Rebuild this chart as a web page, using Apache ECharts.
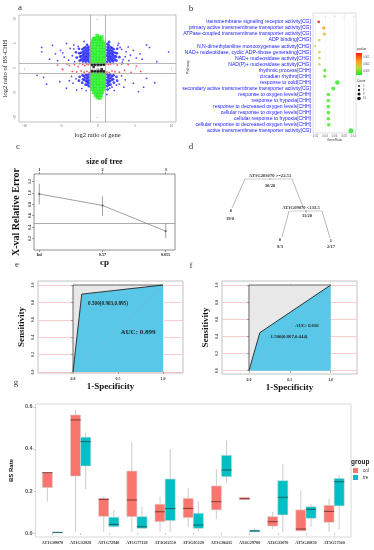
<!DOCTYPE html>
<html><head><meta charset="utf-8">
<script src="https://cdn.jsdelivr.net/npm/echarts@6/dist/echarts.min.js"></script>
<style>html,body{margin:0;padding:0;background:#fff}#c{width:374px;height:550px}</style>
</head><body><div id="c"></div><script>
// ---------- panel a : scatter ----------
const aTicks = [-10, -5, 0, 5, 10];
const aGreen = [
 [-0.92,1.3],[-0.5,1.25],[-0.08,1.35],[0.33,1.28],[0.78,1.32],
 [-0.88,1.95],[-0.46,1.88],[-0.04,1.92],[0.38,1.9],[0.8,1.97],
 [-0.9,2.5],[-0.47,2.55],[-0.06,2.48],[0.36,2.52],[0.82,2.46],
 [-0.86,3.1],[-0.44,3.05],[-0.02,3.12],[0.4,3.08],[0.79,3.14],
 [-0.9,3.7],[-0.48,3.72],[-0.05,3.66],[0.37,3.7],[0.8,3.68],
 [-0.87,4.3],[-0.45,4.28],[-0.03,4.34],[0.39,4.3],[0.81,4.26],
 [-0.85,4.9],[-0.43,4.95],[0.0,4.88],[0.41,4.92],[0.78,4.9],
 [-0.7,5.45],[-0.25,5.55],[0.15,5.5],[0.6,5.48],
 [-0.4,6.0],[0.1,6.2],[0.3,5.9],[-0.1,6.6],[0.5,6.3],[-0.6,5.95],
 [-0.92,-1.3],[-0.5,-1.25],[-0.08,-1.35],[0.33,-1.28],[0.78,-1.32],
 [-0.88,-1.95],[-0.46,-1.88],[-0.04,-1.92],[0.38,-1.9],[0.8,-1.97],
 [-0.9,-2.5],[-0.47,-2.55],[-0.06,-2.48],[0.36,-2.52],[0.82,-2.46],
 [-0.86,-3.1],[-0.44,-3.05],[-0.02,-3.12],[0.4,-3.08],[0.79,-3.14],
 [-0.9,-3.7],[-0.48,-3.72],[-0.05,-3.66],[0.37,-3.7],[0.8,-3.68],
 [-0.8,-4.3],[-0.45,-4.28],[-0.03,-4.34],[0.39,-4.3],[0.75,-4.26],
 [-0.6,-4.9],[-0.2,-4.95],[0.2,-4.88],[0.55,-4.92],
 [-0.35,-5.5],[0.05,-5.45],[0.4,-5.55],[-0.1,-6.0],[0.25,-6.1]
];
// dense blue flanks next to the green band
const aBlueDense = [
 [-1.25,1.3],[-1.3,1.9],[-1.22,2.5],[-1.28,3.1],[-1.24,3.7],[-1.3,4.3],
 [-1.45,1.6],[-1.48,2.2],[-1.44,2.8],[-1.46,3.4],[-1.42,4.0],
 [-1.65,1.25],[-1.7,1.85],[-1.62,2.45],[-1.68,3.05],[-1.66,3.65],[-1.72,4.2],
 [-1.88,1.6],[-1.85,2.2],[-1.9,2.85],[-1.86,3.45],[-1.92,4.05],
 [-2.05,1.35],[-2.1,1.95],[-2.02,2.6],[-2.08,3.2],[-2.12,3.8],
 [-2.3,1.7],[-2.28,2.4],[-2.35,3.1],
 [-2.5,1.5],[-2.45,2.3],[-2.55,3.0],[-2.6,3.9],[-2.9,2.1],[-3.0,3.2],[-1.5,4.7],
 [1.25,1.3],[1.3,1.9],[1.22,2.5],[1.28,3.1],[1.24,3.7],[1.3,4.3],[1.27,4.9],
 [1.45,1.6],[1.48,2.2],[1.44,2.8],[1.46,3.4],[1.42,4.0],[1.47,4.6],
 [1.65,1.25],[1.7,1.85],[1.62,2.45],[1.68,3.05],[1.66,3.65],[1.72,4.2],
 [1.88,1.6],[1.85,2.2],[1.9,2.85],[1.86,3.45],[1.92,4.05],
 [2.05,1.35],[2.1,1.95],[2.02,2.6],[2.08,3.2],[2.12,3.8],
 [2.3,1.7],[2.28,2.4],[2.35,3.1],
 [2.5,1.5],[2.45,2.3],[2.55,3.0],[2.6,3.9],[2.9,2.2],[1.5,5.3],
 [-1.25,-1.3],[-1.3,-1.9],[-1.22,-2.5],[-1.28,-3.1],[-1.24,-3.7],
 [-1.45,-1.6],[-1.48,-2.2],[-1.44,-2.8],[-1.46,-3.4],
 [-1.65,-1.35],[-1.7,-2.0],[-1.62,-2.7],[-1.7,-3.4],
 [-1.9,-1.7],[-1.88,-2.4],
 [-2.1,-1.5],[-2.05,-2.3],[-2.15,-3.0],[-2.5,-1.8],[-2.6,-2.6],
 [1.25,-1.3],[1.3,-1.9],[1.22,-2.5],[1.28,-3.1],[1.24,-3.7],[1.3,-4.4],
 [1.45,-1.6],[1.48,-2.2],[1.44,-2.8],[1.46,-3.4],
 [1.65,-1.35],[1.7,-2.0],[1.62,-2.7],[1.7,-3.4],
 [1.9,-1.7],[1.88,-2.4],
 [2.1,-1.5],[2.05,-2.3],[2.15,-3.0],[2.5,-1.8],[2.6,-2.6]
];
// scattered blue points further out
const aBlueSparse = [
 [-7.66,4.2],[-7.66,3.3],[-6.6,1.8],[-5.8,2.9],[-5.1,3.6],[-3.8,4.0],[-4.3,5.0],[-3.3,4.7],
 [6.6,4.7],[7.0,4.2],[9.6,3.3],[8.0,1.3],[5.7,2.9],[4.8,3.6],[4.1,4.3],[3.7,2.3],[5.2,2.0],
 [2.8,5.0],[3.2,3.8],[-7.4,-1.9],[-7.0,-3.3],[-5.2,-2.8],[-4.3,-4.1],[-3.4,-3.1],[-2.9,-4.5],
 [1.6,-4.1],[2.5,-3.5],[3.7,-2.4],[4.8,-3.1],[6.2,-3.9],[6.6,-2.1],[5.5,-4.8],[1.2,-5.4],
 [-3.5,2.5],[-4.0,1.6],[-3.3,3.9],[-4.6,2.2],[3.4,1.7],[3.0,4.2],[4.4,2.6],[3.8,3.3],
 [-3.6,-1.7],[-3.0,-2.2],[3.2,-1.6],[2.9,-3.3],[-2.2,-4.2],[2.2,-4.6],[-6.2,4.6],[-5.5,1.5],
 [6.0,1.8],[-1.9,5.4],[-8.3,-1.5],[7.7,-3.0],[-3.2,1.3],[3.3,1.2],[-4.8,3.1],[4.2,1.5],
 [-2.7,4.4],[2.7,4.6],[-3.9,-2.6],[3.5,-3.9],[-1.6,-4.6],[1.9,-3.9]
];
const aRed = [
 [-5.5,0.6],[-4.8,-0.3],[-4.2,0.8],[-3.9,0.5],[-3.5,-0.7],[-3.2,0.7],[-2.9,-0.8],[-2.7,0.3],
 [-2.5,0.9],[-2.3,-0.6],[-2.1,0.75],[-1.9,-0.85],[-1.8,0.5],[-1.6,0.85],[-1.5,-0.7],[-1.35,0.7],
 [-1.2,-0.9],[-1.1,0.9],[1.1,0.85],[1.2,-0.8],[1.4,0.7],[1.5,-0.9],[1.7,0.8],[1.9,-0.6],
 [2.1,0.9],[2.3,-0.75],[2.6,0.6],[2.9,-0.85],[3.2,0.8],[3.6,-0.5],[4.1,0.7],[4.5,-0.9],[5.2,0.4],[5.8,-0.7]
];
const aBlack = [
 [-0.85,0.85],[-0.45,0.8],[-0.05,0.88],[0.35,0.82],[0.75,0.86],
 [-0.82,0.62],[-0.42,0.66],[-0.02,0.6],[0.38,0.64],[0.78,0.66],
 [-0.85,-0.6],[-0.45,-0.64],[-0.05,-0.58],[0.35,-0.62],[0.75,-0.64],
 [-0.82,-0.85],[-0.42,-0.82],[-0.02,-0.88],[0.38,-0.84],[0.78,-0.86],
 [-0.6,0.2],[0.5,-0.25]
];
// ---------- panel b : enrichment dot plot ----------
const bTerms = [
 'transmembrane signaling receptor activity[CG]',
 'primary active transmembrane transporter activity[CG]',
 'ATPase-coupled transmembrane transporter activity[CG]',
 'ADP binding[CHG]',
 'N,N-dimethylaniline monooxygenase activity[CHG]',
 'NAD+ nucleotidase, cyclic ADP-ribose generating[CHG]',
 'NAD+ nucleosidase activity[CHG]',
 'NAD(P)+ nucleosidase activity[CHG]',
 'rhythmic process[CHH]',
 'circadian rhythm[CHH]',
 'response to cold[CHH]',
 'secondary active transmembrane transporter activity[CG]',
 'response to oxygen levels[CHH]',
 'response to hypoxia[CHH]',
 'response to decreased oxygen levels[CHH]',
 'cellular response to oxygen levels[CHH]',
 'cellular response to hypoxia[CHH]',
 'cellular response to decreased oxygen levels[CHH]',
 'active transmembrane transporter activity[CG]'
];
const bGeneRatio = [0.0267,0.0373,0.0385,0.028,0.019,0.028,0.028,0.028,0.0394,0.0394,0.066,0.0575,0.047,0.047,0.047,0.047,0.047,0.048,0.0947];
const bPvalue = [0.0004,0.0016,0.0022,0.0029,0.0031,0.0029,0.0029,0.0029,0.0039,0.0039,0.0042,0.0041,0.004,0.004,0.004,0.004,0.004,0.004,0.0043];
const bCount = [3,4,4,3,2,3,3,3,4,4,7,6,5,5,5,5,5,5,8];
const bTicks = [0.02,0.04,0.06,0.08,0.10];
// ---------- panel c : cp plot ----------
const cSize = ['1','2','3'];
const cCp = ['Inf','0.57','0.055'];
const cErr = [0.98,0.78,0.33];
const cLo = [0.80,0.60,0.21];
const cHi = [1.16,0.94,0.47];
const cThreshold = 0.455;
const cTicks = [0.2,0.4,0.6,0.8,1.0,1.2];
// ---------- panel d : tree ----------
const dSplits = ['AT3G203070 >=22.55','AT1G09070 <133.5'];
const dSplitCounts = ['30/20','11/20'];
const dLeafClass = ['0','0','1'];
const dLeafCounts = ['19/0','9/3','2/17'];
// ---------- panels e, f : ROC ----------
const eRoc = [[0,0],[0.097,0.895],[1,1]];
const fRoc = [[0,0],[0.133,0.444],[1,1]];
const eAuc = 'AUC: 0.899', eThr = '0.500(0.903,0.895)';
const fAuc = 'AUC: 0.656', fThr = '1.500(0.867,0.444)';
const rocXTicks = [0,0.5,1];
const rocYTicks = [0,0.2,0.4,0.6,0.8,1.0];
// ---------- panel g : boxplots ----------
const gGenes = ['AT1G09070','AT1G32928','AT1G72940','AT1G77120','AT3G02550','AT3G05120','AT3G06435','AT4G29780','AT4G33070','AT5G20850','AT5G57560'];
// [low, q1, median, q3, high]
const gCol = [
 [0.149,0.216,0.287,0.287,0.287],[0.006,0.271,0.538,0.562,0.586],[0.006,0.079,0.160,0.165,0.173],
 [0.006,0.078,0.157,0.295,0.433],[0.006,0.054,0.101,0.137,0.173],[0.030,0.073,0.117,0.165,0.213],
 [0.065,0.110,0.149,0.224,0.303],[0.158,0.159,0.163,0.170,0.172],[0.018,0.033,0.054,0.078,0.101],
 [0.010,0.010,0.019,0.110,0.202],[0.006,0.051,0.103,0.132,0.163]
];
const gTre = [
 [0.003,0.003,0.003,0.003,0.003],[0.208,0.319,0.435,0.456,0.478],[0.025,0.030,0.041,0.075,0.110],
 [0.022,0.022,0.030,0.078,0.125],[0.006,0.059,0.116,0.257,0.399],[0.010,0.022,0.038,0.094,0.152],
 [0.240,0.268,0.300,0.370,0.440],[0.003,0.005,0.010,0.014,0.022],[0.006,0.086,0.170,0.249,0.329],
 [0.030,0.070,0.113,0.125,0.138],[0.018,0.129,0.244,0.260,0.276]
];
const gTicks = [0,0.2,0.4,0.6];
const gGroups = ['col','tre'];
const gColors = ['#F8766D','#00BFC4'];

// ================= build =================
const SERIF = '"Liberation Serif", "DejaVu Serif", serif';
const SANS = '"Liberation Sans", Arial, sans-serif';
const chart = echarts.init(document.getElementById('c'), null, {renderer:'canvas'});

function boxRender(offset, fill, med){
  return function(params, api){
    const x = api.value(0) + offset;
    const lo = api.coord([x, api.value(1)]), q1 = api.coord([x, api.value(2)]),
          md = api.coord([x, api.value(3)]), q3 = api.coord([x, api.value(4)]),
          hi = api.coord([x, api.value(5)]);
    const w = api.size([0.36, 0])[0];
    return {type:'group', children:[
      {type:'line', shape:{x1:lo[0],y1:lo[1],x2:hi[0],y2:hi[1]}, style:{stroke:'#cccccc', lineWidth:1}},
      {type:'rect', shape:{x:q3[0]-w/2, y:q3[1], width:w, height:Math.max(q1[1]-q3[1],0.5)}, style:{fill:fill, stroke:'#d9d9d9', lineWidth:0.6}},
      {type:'line', shape:{x1:md[0]-w/2,y1:md[1],x2:md[0]+w/2,y2:md[1]}, style:{stroke:med, lineWidth:1}}
    ]};
  };
}
function txt(x, y, text, font, fill, align, rot){
  return {type:'text', x:x, y:y, z:100, rotation: rot||0, silent:true,
    style:{text:text, font:font, fill:fill||'#222', align:align||'center', verticalAlign:'middle'}};
}
function ln(x1,y1,x2,y2,c,w){
  return {type:'line', z:100, silent:true, shape:{x1,y1,x2,y2}, style:{stroke:c||'#888', lineWidth:w||0.6}};
}

const rocAxisX = (idx, min, max) => ({gridIndex: idx, type:'value', min, max,
  name:'1-Specificity', nameLocation:'middle', nameGap:9,
  nameTextStyle:{fontFamily:SERIF, fontWeight:'bold', fontSize:9, color:'#111'},
  axisLine:{show:false}, axisTick:{customValues:rocXTicks, length:2, lineStyle:{color:'#666', width:0.5}},
  axisLabel:{customValues:rocXTicks, fontSize:4, fontWeight:'bold', fontFamily:SERIF, color:'#333', margin:4, formatter:v=>v.toFixed(1)},
  splitLine:{show:true, lineStyle:{color:'#d6ecd6', width:0.6}}});
const rocAxisY = (idx, min, max, gap) => ({gridIndex: idx, type:'value', min, max,
  name:'Sensitivity', nameLocation:'middle', nameGap:gap,
  nameTextStyle:{fontFamily:SERIF, fontWeight:'bold', fontSize:9, color:'#111'},
  axisLine:{show:false}, axisTick:{customValues:rocYTicks, length:2, lineStyle:{color:'#666', width:0.5}},
  axisLabel:{customValues:rocYTicks, rotate:90, fontSize:4, fontWeight:'bold', fontFamily:SERIF, color:'#333', margin:3, formatter:v=>v.toFixed(1)},
  splitLine:{show:true, lineStyle:{color:'#f5c2c2', width:0.8}}});

const series = [];
// a
series.push({type:'scatter', xAxisIndex:0, yAxisIndex:0, data:aBlueSparse, symbolSize:1.8, itemStyle:{color:'#2020ff'}, silent:true});
series.push({type:'scatter', xAxisIndex:0, yAxisIndex:0, data:aBlueDense, symbolSize:2.8, itemStyle:{color:'#1f1fff'}, silent:true});
series.push({type:'scatter', xAxisIndex:0, yAxisIndex:0, data:aRed, symbolSize:1.8, itemStyle:{color:'#ff2020'}, silent:true});
series.push({type:'scatter', xAxisIndex:0, yAxisIndex:0, data:aBlack, symbol:'rect', symbolSize:2.6, itemStyle:{color:'#111'}, silent:true});
series.push({type:'scatter', xAxisIndex:0, yAxisIndex:0, data:aGreen, symbol:'rect', symbolSize:3.8, itemStyle:{color:'#22ee22'}, silent:true,
  markLine:{silent:true, symbol:'none', label:{show:false}, lineStyle:{color:'#999', width:0.7, type:'solid'},
    data:[{xAxis:-1},{xAxis:1},{yAxis:-1},{yAxis:1}]}});
// b
const bIdx = series.length;
series.push({type:'scatter', xAxisIndex:1, yAxisIndex:1, silent:true,
  data: bTerms.map((t,i)=>[bGeneRatio[i], i+1, bPvalue[i], bCount[i]]),
  symbolSize: v => 1.4 + v[3]*0.45});
// c
series.push({type:'line', xAxisIndex:2, yAxisIndex:2, silent:true, data: cErr.map((v,i)=>[i+1,v]),
  lineStyle:{color:'#888', width:0.8}, symbol:'circle', symbolSize:2, itemStyle:{color:'#555'},
  markLine:{silent:true, symbol:'none', label:{show:false}, lineStyle:{color:'#888', width:0.7, type:'solid'}, data:[{yAxis:cThreshold}]}});
series.push({type:'custom', xAxisIndex:2, yAxisIndex:2, silent:true, data: cErr.map((v,i)=>[i+1,cLo[i],cHi[i]]),
  renderItem:(p,api)=>{const a=api.coord([api.value(0),api.value(1)]), b=api.coord([api.value(0),api.value(2)]);
    return {type:'line', shape:{x1:a[0],y1:a[1],x2:b[0],y2:b[1]}, style:{stroke:'#777', lineWidth:0.7}};}});
// e, f ROC
function rocSeries(xi, yi, roc){
  return [
    {type:'line', xAxisIndex:xi, yAxisIndex:yi, silent:true, symbol:'none', data:[[0,0],[0,1],[1,1]],
      lineStyle:{color:'#444', width:0.8}, areaStyle:{color:'#e8e8e8', opacity:1, origin:0}},
    {type:'line', xAxisIndex:xi, yAxisIndex:yi, silent:true, symbol:'none', data:roc,
      lineStyle:{color:'#222', width:0.9}, areaStyle:{color:'#58c7e8', opacity:1, origin:0}},
    {type:'line', xAxisIndex:xi, yAxisIndex:yi, silent:true, symbol:'none', data:[[0,0],[1,1]],
      lineStyle:{color:'rgba(160,160,160,0.55)', width:0.5}}
  ];
}
series.push(...rocSeries(4,3,eRoc));
series.push(...rocSeries(5,4,fRoc));
// g
series.push({type:'custom', name:gGroups[0], xAxisIndex:6, yAxisIndex:5, silent:true, itemStyle:{color:gColors[0]},
  data: gCol.map((r,i)=>[i+1, ...r]), encode:{x:0, y:[1,2,3,4,5]}, renderItem: boxRender(-0.18, gColors[0], '#7f3b36')});
series.push({type:'custom', name:gGroups[1], xAxisIndex:6, yAxisIndex:5, silent:true, itemStyle:{color:gColors[1]},
  data: gTre.map((r,i)=>[i+1, ...r]), encode:{x:0, y:[1,2,3,4,5]}, renderItem: boxRender(0.18, gColors[1], '#1b5e60')});

const graphic = [
  txt(20,8,'a','9px '+SERIF,'#333'), txt(191,9,'b','9px '+SERIF,'#333'),
  txt(18,147,'c','9px '+SERIF,'#333'), txt(191,147,'d','9px '+SERIF,'#333'),
  txt(17,265,'e','9px '+SERIF,'#333'), txt(191,266,'f','9px '+SERIF,'#333'),
  txt(16,383,'g','9px '+SERIF,'#333'),
  // b axis title + legends
  txt(188,67,'Pathway','3.6px '+SANS,'#333','center',Math.PI/2),
  txt(357,49,'pvalue','3.2px '+SANS,'#333','left'),
  {type:'rect', z:100, silent:true, shape:{x:356,y:53,width:6,height:22}, style:{fill:{type:'linear',x:0,y:0,x2:0,y2:1,colorStops:[{offset:0,color:'#ff1a00'},{offset:0.35,color:'#ff9a1a'},{offset:0.65,color:'#c8d43a'},{offset:1,color:'#22e622'}]}}},
  txt(363,57,'0.001','2.6px '+SANS,'#555','left'), txt(363,64,'0.002','2.6px '+SANS,'#555','left'), txt(363,71,'0.003','2.6px '+SANS,'#555','left'),
  txt(357,81,'Count','3.2px '+SANS,'#333','left'),
  {type:'circle', z:100, silent:true, shape:{cx:359,cy:86,r:0.9}, style:{fill:'#111'}},
  {type:'circle', z:100, silent:true, shape:{cx:359,cy:90,r:1.2}, style:{fill:'#111'}},
  {type:'circle', z:100, silent:true, shape:{cx:359,cy:94,r:1.5}, style:{fill:'#111'}},
  {type:'circle', z:100, silent:true, shape:{cx:359,cy:98.5,r:1.8}, style:{fill:'#111'}},
  txt(363,86,'4','2.6px '+SANS,'#555','left'), txt(363,90,'6','2.6px '+SANS,'#555','left'),
  txt(363,94,'8','2.6px '+SANS,'#555','left'), txt(363,98.5,'10','2.6px '+SANS,'#555','left'),
  // d tree
  txt(270,176,dSplits[0],'bold 4.6px '+SERIF,'#333'), ln(270,178,270,180,'#555',0.5),
  txt(270,186,dSplitCounts[0],'bold 4.6px '+SERIF,'#333'),
  ln(245,179,232,208), ln(292,179,303,207), ln(245,179,292,179,'#999',0.5),
  txt(231,211,dLeafClass[0],'bold 4.6px '+SERIF,'#333'), txt(230,219,dLeafCounts[0],'bold 4.6px '+SERIF,'#333'),
  txt(301,208,dSplits[1],'bold 4.6px '+SERIF,'#333'), ln(289,211,322,211,'#999',0.5), ln(306,210,306,213,'#555',0.5),
  txt(307,216,dSplitCounts[1],'bold 4.6px '+SERIF,'#333'),
  ln(289,211,282,237), ln(322,211,330,238),
  txt(280,240,dLeafClass[1],'bold 4.6px '+SERIF,'#333'), txt(280,247,dLeafCounts[1],'bold 4.6px '+SERIF,'#333'),
  txt(331,241,dLeafClass[2],'bold 4.6px '+SERIF,'#333'), txt(331,247,dLeafCounts[2],'bold 4.6px '+SERIF,'#333'),
  // e, f texts
  txt(108,304,eThr,'bold 5.2px '+SERIF,'#222'), txt(138,332,eAuc,'bold 7px '+SERIF,'#222'),
  txt(307,326,fAuc,'italic bold 4.8px '+SERIF,'#222'), txt(289,337,fThr,'bold 4.8px '+SERIF,'#222'),
  // g legend title
  txt(351,462,'group','bold 6.5px '+SANS,'#222','left')
];

const option = {
  animation:false,
  textStyle:{fontFamily:SERIF},
  grid:[
    {left:19, top:15, width:157, height:107, show:true, borderColor:'#999', borderWidth:0.6},
    {left:313, top:13, width:43, height:120, show:true, borderColor:'#bbb', borderWidth:0.5},
    {left:34, top:174, width:141, height:76, show:true, borderColor:'#444', borderWidth:0.6},
    {left:38, top:281, width:145, height:92, show:true, borderColor:'#999', borderWidth:0.6},
    {left:222, top:281, width:135, height:93, show:true, borderColor:'#999', borderWidth:0.6},
    {left:23, top:404, width:328, height:133, show:true, borderColor:'#cfcfcf', borderWidth:0.8}
  ],
  xAxis:[
    {gridIndex:0, type:'value', min:-10.75, max:10.6, name:'log2 ratio of gene', nameLocation:'middle', nameGap:10,
      nameTextStyle:{fontFamily:SERIF, fontSize:6.5, color:'#222'}, axisLine:{show:false},
      axisTick:{customValues:aTicks, length:1.5, lineStyle:{color:'#888', width:0.5}},
      axisLabel:{customValues:aTicks, fontSize:3.5, color:'#666', margin:2}, splitLine:{show:false}},
    {gridIndex:1, type:'value', min:0.0147, max:0.1053, name:'GeneRatio', nameLocation:'middle', nameGap:6,
      nameTextStyle:{fontFamily:SANS, fontSize:3.2, color:'#444'}, axisLine:{show:false},
      axisTick:{customValues:bTicks, length:1, lineStyle:{color:'#999', width:0.4}},
      axisLabel:{customValues:bTicks, fontSize:2.8, fontFamily:SANS, color:'#666', margin:1.5, formatter:v=>v.toFixed(2)},
      splitLine:{show:true, lineStyle:{color:'#eeeeee', width:0.5}}},
    {gridIndex:2, type:'value', min:0.916, max:3.147, name:'cp', nameLocation:'middle', nameGap:8,
      nameTextStyle:{fontFamily:SERIF, fontSize:9, fontWeight:'bold', color:'#111'}, axisLine:{show:false},
      axisTick:{customValues:[1,2,3], length:2, lineStyle:{color:'#444', width:0.5}},
      axisLabel:{customValues:[1,2,3], fontSize:4.2, fontWeight:'bold', color:'#222', margin:3, formatter:v=>cCp[Math.round(v)-1]},
      splitLine:{show:false}},
    {gridIndex:2, type:'value', position:'top', min:0.916, max:3.147, name:'size of tree', nameLocation:'middle', nameGap:8,
      nameTextStyle:{fontFamily:SERIF, fontSize:8, fontWeight:'bold', color:'#111'}, axisLine:{show:false},
      axisTick:{customValues:[1,2,3], length:2, lineStyle:{color:'#444', width:0.5}},
      axisLabel:{customValues:[1,2,3], fontSize:4.2, fontWeight:'bold', color:'#222', margin:2, formatter:v=>cSize[Math.round(v)-1]},
      splitLine:{show:false}},
    rocAxisX(3, -0.389, 1.222),
    rocAxisX(4, -0.33, 1.322),
    {gridIndex:5, type:'value', min:0.4, max:11.6, axisLine:{show:false},
      axisTick:{customValues:gGenes.map((g,i)=>i+1), length:2, lineStyle:{color:'#999', width:0.5}},
      axisLabel:{customValues:gGenes.map((g,i)=>i+1), fontSize:4.2, fontWeight:'bold', fontFamily:SERIF, color:'#333', margin:4, formatter:v=>gGenes[Math.round(v)-1]},
      splitLine:{show:false}}
  ],
  yAxis:[
    {gridIndex:0, type:'value', min:-11.0, max:10.8, name:'log2 ratio of BS-CHH', nameLocation:'middle', nameGap:10,
      nameTextStyle:{fontFamily:SERIF, fontSize:6.5, color:'#222'}, axisLine:{show:false},
      axisTick:{customValues:aTicks, length:1.5, lineStyle:{color:'#888', width:0.5}},
      axisLabel:{customValues:aTicks, fontSize:3.5, color:'#666', margin:2, rotate:90}, splitLine:{show:false}},
    {gridIndex:1, type:'value', inverse:true, min:-0.47, max:19.36, axisLine:{show:false}, axisTick:{show:false},
      axisLabel:{customValues:bTerms.map((t,i)=>i+1), fontSize:5.1, fontFamily:SANS, color:'#1a1aff', margin:2, formatter:v=>bTerms[Math.round(v)-1]},
      splitLine:{show:false}},
    {gridIndex:2, type:'value', min:0, max:1.33, name:'X-val Relative Error', nameLocation:'middle', nameGap:13,
      nameTextStyle:{fontFamily:SERIF, fontSize:10, fontWeight:'bold', color:'#111'}, axisLine:{show:false},
      axisTick:{customValues:cTicks, length:2, lineStyle:{color:'#444', width:0.5}},
      axisLabel:{customValues:cTicks, rotate:90, fontSize:4, fontWeight:'bold', color:'#222', margin:2, formatter:v=>v.toFixed(1)},
      splitLine:{show:false}},
    rocAxisY(3, -0.0115, 1.046, 12),
    rocAxisY(4, -0.0385, 1.047, 12),
    {gridIndex:5, type:'value', min:-0.019, max:0.614, name:'BS Rate', nameLocation:'middle', nameGap:15,
      nameTextStyle:{fontFamily:SANS, fontSize:6, fontWeight:'bold', color:'#111'}, axisLine:{show:false},
      axisTick:{customValues:gTicks, length:2, lineStyle:{color:'#999', width:0.5}},
      axisLabel:{customValues:gTicks, fontSize:5.5, fontWeight:'bold', fontFamily:SANS, color:'#4d4d4d', margin:3, formatter:v=>v.toFixed(1)},
      splitLine:{show:false}}
  ],
  visualMap:[{type:'continuous', show:false, seriesIndex:bIdx, dimension:2, min:0.0004, max:0.0043,
    inRange:{color:['#ff1a00','#ff9a1a','#c8d43a','#22e622']}}],
  legend:{data:gGroups, orient:'vertical', left:353, top:468, padding:0, itemWidth:5, itemHeight:5, itemGap:2, icon:'rect',
    textStyle:{fontSize:4.5, fontFamily:SANS, color:'#333'}},
  graphic: graphic,
  series: series
};
chart.setOption(option);
</script></body></html>
